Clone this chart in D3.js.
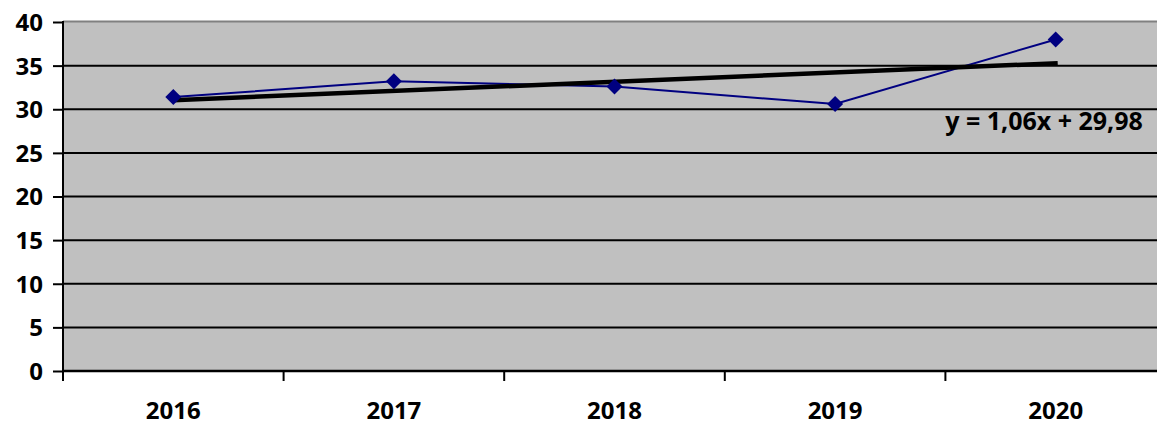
<!DOCTYPE html>
<html><head><meta charset="utf-8">
<script src="https://cdn.jsdelivr.net/npm/d3@7"></script>
<style>body{margin:0;background:#fff}svg{display:block}</style>
</head><body>
<script>
const years = ["2016","2017","2018","2019","2020"];
const values = [31.4, 33.2, 32.6, 30.6, 38.0];
const yTicks = [0,5,10,15,20,25,30,35,40];
const equationLabel = "y = 1,06x + 29,98";

const W = 1157, H = 425;
const m = {left:63, top:22, right:1166, bottom:371};
const svg = d3.select("body").append("svg").attr("width",W).attr("height",H);
const font = "'Open Sans', Lato, sans-serif";

const x = d3.scaleBand().domain(years).range([m.left, m.right]);
const y = d3.scaleLinear().domain([0,40]).range([m.bottom, m.top]);

// plot background
svg.append("rect").attr("x",m.left).attr("y",y(40)-1).attr("width",m.right-m.left).attr("height",m.bottom-y(40)+1).attr("fill","#c0c0c0");
// top border
svg.append("line").attr("x1",m.left).attr("x2",m.right).attr("y1",y(40)-0.5).attr("y2",y(40)-0.5).attr("stroke","#808080").attr("stroke-width",2);

// gridlines
svg.append("g").selectAll("line").data(yTicks.filter(d=>d>0&&d<40)).join("line")
  .attr("x1",m.left).attr("x2",m.right).attr("y1",d=>y(d)).attr("y2",d=>y(d))
  .attr("stroke","#000").attr("stroke-width",2);

// y axis
const ya = svg.append("g").attr("transform",`translate(${m.left},0)`)
  .call(d3.axisLeft(y).tickValues(yTicks).tickSize(10).tickPadding(10));
ya.select(".domain").remove();
ya.selectAll(".tick line").attr("stroke","#000").attr("stroke-width",2);
ya.selectAll(".tick text").attr("font-family",font).attr("font-weight","bold").attr("font-size",24).attr("fill","#000").attr("dy","0.35em");
svg.append("line").attr("x1",m.left).attr("x2",m.left).attr("y1",y(40)-1).attr("y2",m.bottom+10).attr("stroke","#000").attr("stroke-width",2);

// x axis line
svg.append("line").attr("x1",m.left).attr("x2",m.right).attr("y1",m.bottom).attr("y2",m.bottom).attr("stroke","#000").attr("stroke-width",2.5);
// x ticks at band boundaries
svg.append("g").selectAll("line").data(years).join("line")
  .attr("x1",d=>x(d)+x.bandwidth()).attr("x2",d=>x(d)+x.bandwidth())
  .attr("y1",m.bottom).attr("y2",m.bottom+10).attr("stroke","#000").attr("stroke-width",2);
svg.append("g").selectAll("text").data(years).join("text")
  .attr("x",d=>x(d)+x.bandwidth()/2).attr("y",419)
  .attr("text-anchor","middle").attr("font-family",font).attr("font-weight","bold").attr("font-size",24)
  .text(d=>d);

// series line
const cx = d=>x(d)+x.bandwidth()/2;
const pts = years.map((yr,i)=>[cx(yr), y(values[i])]);
svg.append("path").attr("d",d3.line()(pts)).attr("fill","none").attr("stroke","#000080").attr("stroke-width",2);

// trend line (least squares)
const n = values.length, xs = years.map((_,i)=>i+1);
const mx = d3.mean(xs), my = d3.mean(values);
const slope = d3.sum(xs.map((xi,i)=>(xi-mx)*(values[i]-my)))/d3.sum(xs.map(xi=>(xi-mx)**2));
const icpt = my - slope*mx;
svg.append("line")
  .attr("x1",cx(years[0])).attr("y1",y(icpt+slope*1))
  .attr("x2",cx(years[n-1])+2).attr("y2",y(icpt+slope*n))
  .attr("stroke","#000").attr("stroke-width",4.5);

// markers
svg.append("g").selectAll("path").data(pts).join("path")
  .attr("transform",d=>`translate(${d[0]},${d[1]})`)
  .attr("d","M0,-8L8,0L0,8L-8,0Z").attr("fill","#000080");

// equation
svg.append("text").attr("x",1044).attr("y",130).attr("text-anchor","middle")
  .attr("font-family",font).attr("font-weight","bold").attr("font-size",25).text(equationLabel);
</script>
</body></html>
